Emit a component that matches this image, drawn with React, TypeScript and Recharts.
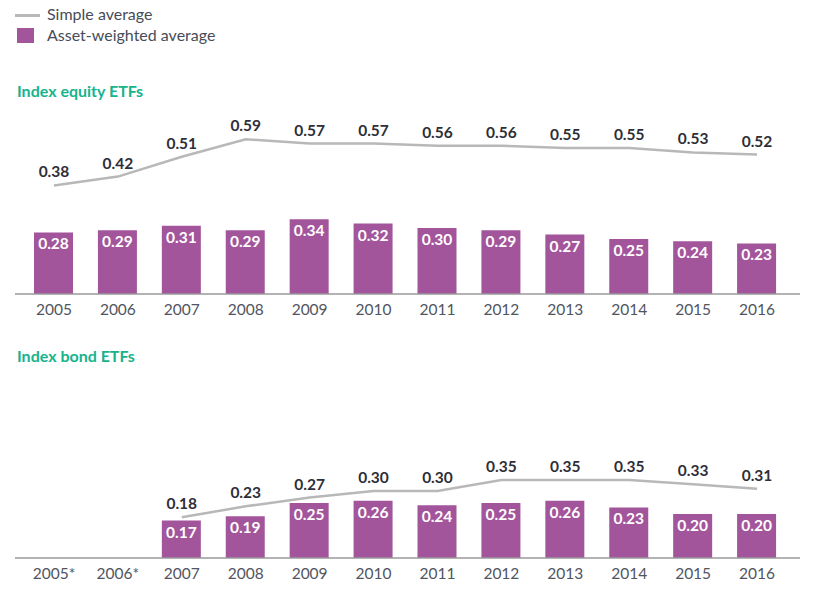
import React from 'react';
import { ComposedChart, Bar, Line, XAxis, YAxis, LabelList } from 'recharts';

const years = ['2005', '2006', '2007', '2008', '2009', '2010', '2011', '2012', '2013', '2014', '2015', '2016'];
const bondYears = ['2005*', '2006*', '2007', '2008', '2009', '2010', '2011', '2012', '2013', '2014', '2015', '2016'];

const equitySimple = [0.38, 0.42, 0.51, 0.59, 0.57, 0.57, 0.56, 0.56, 0.55, 0.55, 0.53, 0.52];
const equityWeighted = [0.28, 0.29, 0.31, 0.29, 0.34, 0.32, 0.30, 0.29, 0.27, 0.25, 0.24, 0.23];

const bondSimple = [null, null, 0.18, 0.23, 0.27, 0.30, 0.30, 0.35, 0.35, 0.35, 0.33, 0.31];
const bondWeighted = [null, null, 0.17, 0.19, 0.25, 0.26, 0.24, 0.25, 0.26, 0.23, 0.20, 0.20];

const PURPLE = '#a3559c';
const GREY_LINE = '#b8b8b8';
const TEAL = '#16b38c';
const FONT = 'Lato, "Open Sans", sans-serif';

const fmt = (v: any) => (v == null ? '' : Number(v).toFixed(2));

const LineLabel = (props: any) => {
  const { x, y, value } = props;
  if (value == null) return null;
  return (
    <text x={x} y={y - 8} textAnchor="middle" fill="#2e2e38" fontSize={15.5} fontWeight={700} fontFamily={FONT}>
      {fmt(value)}
    </text>
  );
};

const BarLabel = (props: any) => {
  const { x, y, width, value } = props;
  if (value == null) return null;
  return (
    <text x={x + width / 2} y={y + 17} textAnchor="middle" fill="#ffffff" fontSize={15.5} fontWeight={700} fontFamily={FONT}>
      {fmt(value)}
    </text>
  );
};

function Panel({ cats, simple, weighted, lineDomain }: any) {
  const data = cats.map((c: string, i: number) => ({ year: c, simple: simple[i], weighted: weighted[i] }));
  return (
    <ComposedChart width={822} height={224} data={data} margin={{ top: 10, right: 22, left: 15, bottom: 0 }}>
      <XAxis
        dataKey="year"
        tickLine={false}
        axisLine={{ stroke: '#9a9a9a', strokeWidth: 1.5 }}
        padding={{ left: 7, right: 11 }}
        tick={{ fill: '#505560', fontSize: 15.5, fontFamily: FONT, dy: 2 }}
        interval={0}
        height={30}
      />
      <YAxis yAxisId="bar" hide domain={[0, 0.8364]} />
      <YAxis yAxisId="line" hide domain={lineDomain} />
      <Bar yAxisId="bar" dataKey="weighted" fill={PURPLE} barSize={39} isAnimationActive={false}>
        <LabelList dataKey="weighted" content={BarLabel} />
      </Bar>
      <Line
        yAxisId="line"
        dataKey="simple"
        stroke={GREY_LINE}
        strokeWidth={2.5}
        dot={false}
        activeDot={false}
        isAnimationActive={false}
        type="linear"
      >
        <LabelList dataKey="simple" content={LineLabel} />
      </Line>
    </ComposedChart>
  );
}

export default function App() {
  return (
    <div style={{ position: 'absolute', left: 0, top: 0, width: 822, height: 602, background: '#fff', fontFamily: FONT }}>
      <div style={{ position: 'absolute', left: 15, top: 14, width: 25, height: 3, background: GREY_LINE }} />
      <div style={{ position: 'absolute', left: 47, top: 4, fontSize: 16, color: '#474c58', lineHeight: '20px' }}>Simple average</div>
      <div style={{ position: 'absolute', left: 17, top: 28, width: 17, height: 15, background: PURPLE }} />
      <div style={{ position: 'absolute', left: 47, top: 25, fontSize: 16, color: '#474c58', lineHeight: '20px' }}>Asset-weighted average</div>

      <div style={{ position: 'absolute', left: 17, top: 81, fontSize: 16, fontWeight: 700, color: TEAL, lineHeight: '20px' }}>Index equity ETFs</div>
      <div style={{ position: 'absolute', left: 0, top: 100 }}>
        <Panel cats={years} simple={equitySimple} weighted={equityWeighted} lineDomain={[-0.1136, 0.7228]} />
      </div>

      <div style={{ position: 'absolute', left: 17, top: 346, fontSize: 16, fontWeight: 700, color: TEAL, lineHeight: '20px' }}>Index bond ETFs</div>
      <div style={{ position: 'absolute', left: 0, top: 364 }}>
        <Panel cats={bondYears} simple={bondSimple} weighted={bondWeighted} lineDomain={[-0.005, 0.8314]} />
      </div>
    </div>
  );
}
